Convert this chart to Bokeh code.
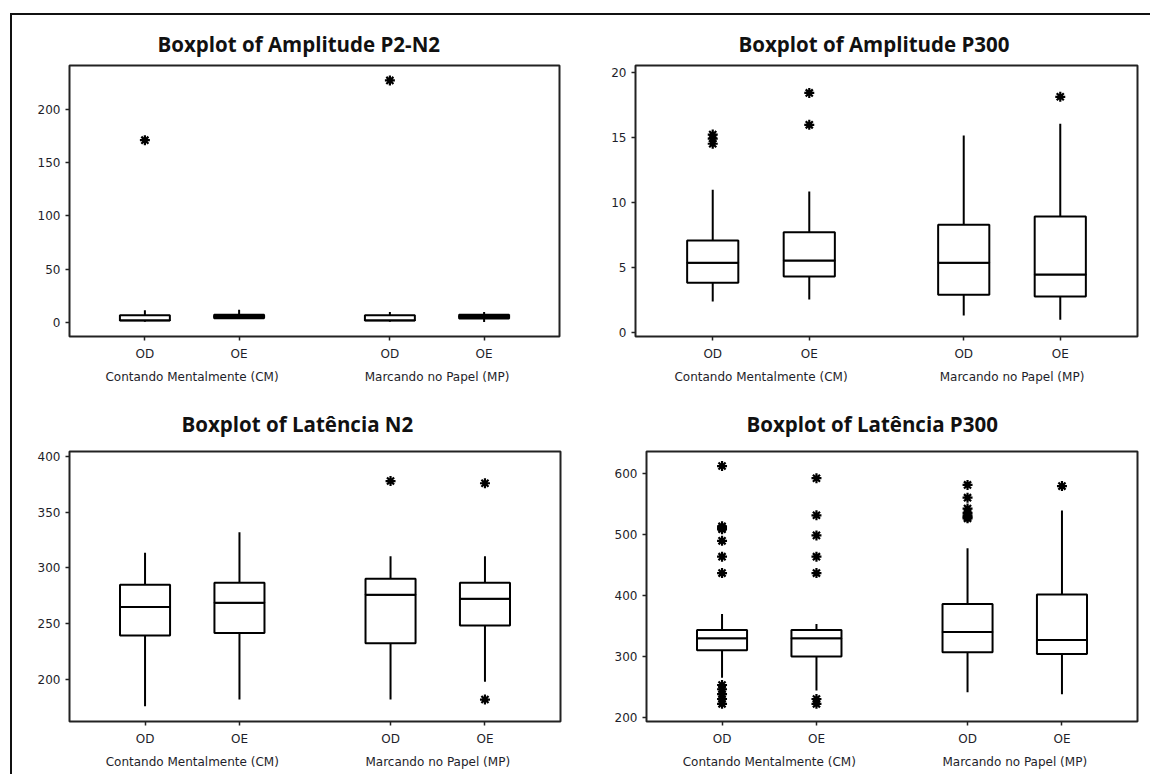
from bokeh.plotting import figure
from bokeh.models import FactorRange, FixedTicker, Range1d, Title
from bokeh.layouts import row, column
from bokeh.embed import file_html
from bokeh.resources import INLINE

# ---------------- data ----------------
groups = ["Contando Mentalmente (CM)", "Marcando no Papel (MP)"]
eyes = ["OD", "OE"]
factors = [(g, e) for g in groups for e in eyes]

# Amplitude P2-N2
a1_lower = [0.8, 3.6, 0.8, 0.5]
a1_q1 = [2.0, 4.0, 2.0, 3.8]
a1_med = [2.2, 5.5, 2.2, 5.5]
a1_q3 = [7.0, 7.5, 7.0, 7.3]
a1_upper = [11.5, 12.0, 10.0, 10.0]
a1_out = [[171.0], [], [227.0], []]
a1_ticks = [0, 50, 100, 150, 200]

# Amplitude P300
a2_lower = [2.4, 2.56, 1.33, 1.0]
a2_q1 = [3.84, 4.32, 2.92, 2.79]
a2_med = [5.37, 5.55, 5.37, 4.47]
a2_q3 = [7.08, 7.72, 8.29, 8.93]
a2_upper = [10.97, 10.84, 15.14, 16.04]
a2_out = [[15.2, 14.9, 14.5], [18.4, 15.95], [], [18.1]]
a2_ticks = [0, 5, 10, 15, 20]

# Latencia N2
l1_lower = [176.0, 182.0, 182.0, 198.0]
l1_q1 = [239.5, 241.6, 232.6, 248.4]
l1_med = [264.9, 268.8, 276.0, 272.3]
l1_q3 = [285.0, 286.7, 290.3, 286.7]
l1_upper = [313.6, 332.0, 310.6, 310.6]
l1_out = [[], [], [378.0], [376.0, 182.0]]
l1_ticks = [200, 250, 300, 350, 400]

# Latencia P300
l2_lower = [265.0, 244.0, 241.0, 238.0]
l2_q1 = [310.0, 300.0, 307.0, 304.0]
l2_med = [330.0, 330.0, 340.0, 327.0]
l2_q3 = [343.6, 343.6, 386.0, 402.0]
l2_upper = [369.6, 353.4, 478.0, 540.0]
l2_out = [
    [613, 514, 511, 509, 490, 464, 437, 253, 246, 238, 230, 222],
    [593, 532, 499, 464, 437, 230, 222],
    [582, 561, 543, 536, 532, 529, 527],
    [580],
]
l2_ticks = [200, 300, 400, 500, 600]

FONT = "DejaVu Sans"
TXT = "#1e1e2a"


def make_panel(title, lower, q1, med, q3, upper, outliers, ticks, yr,
               w, h, bl, br, bt, bb, toff, tstand):
    xr = FactorRange(*factors, factor_padding=0.0, group_padding=0.6,
                     range_padding=0.3, range_padding_units="absolute")
    p = figure(x_range=xr, y_range=Range1d(*yr), width=w, height=h,
               output_backend="svg", toolbar_location=None,
               min_border_left=bl, min_border_right=br,
               min_border_top=bt, min_border_bottom=bb)
    p.title = Title(text=title, align="left", offset=toff,
                    text_font="Open Sans", text_font_style="bold",
                    text_font_size="20.5px", text_color="#111", standoff=tstand)
    p.grid.visible = False
    p.outline_line_color = "#222"
    p.outline_line_width = 2
    p.outline_line_alpha = 1.0
    p.background_fill_color = "white"
    p.border_fill_color = "white"

    # whiskers
    p.segment(x0=factors, y0=q3, x1=factors, y1=upper, line_color="black", line_width=2)
    p.segment(x0=factors, y0=q1, x1=factors, y1=lower, line_color="black", line_width=2)
    # boxes
    p.vbar(x=factors, width=0.53, bottom=q1, top=med, fill_color="white",
           line_color="black", line_width=2)
    p.vbar(x=factors, width=0.53, bottom=med, top=q3, fill_color="white",
           line_color="black", line_width=2)
    # outliers
    ox, oy = [], []
    for f, vals in zip(factors, outliers):
        for v in vals:
            ox.append(f)
            oy.append(v)
    if ox:
        p.scatter(x=ox, y=oy, marker="asterisk", size=10, line_color="black",
                  line_width=2.2)

    ya = p.yaxis[0]
    ya.ticker = FixedTicker(ticks=ticks)
    ya.axis_line_color = None
    ya.major_tick_out = 4
    ya.major_tick_in = 0
    ya.major_tick_line_color = "#222"
    ya.major_tick_line_width = 1.5
    ya.minor_tick_line_color = None
    ya.major_label_standoff = 5
    ya.major_label_text_font = FONT
    ya.major_label_text_font_size = "12px"
    ya.major_label_text_color = TXT

    xa = p.xaxis[0]
    xa.axis_line_color = None
    xa.major_tick_out = 4
    xa.major_tick_in = 0
    xa.major_tick_line_color = "#222"
    xa.major_tick_line_width = 1.5
    xa.major_label_standoff = 6
    xa.major_label_text_font = FONT
    xa.major_label_text_font_size = "12px"
    xa.major_label_text_color = TXT
    xa.group_text_font = FONT
    xa.group_text_font_size = "12px"
    xa.group_text_font_style = "normal"
    xa.group_text_color = TXT
    xa.separator_line_color = None
    return p


p1 = make_panel("Boxplot of Amplitude P2-N2", a1_lower, a1_q1, a1_med, a1_q3,
                a1_upper, a1_out, a1_ticks, (-13, 241),
                586, 375, 57, 39, 48, 54, 88, 15)
p2 = make_panel("Boxplot of Amplitude P300", a2_lower, a2_q1, a2_med, a2_q3,
                a2_upper, a2_out, a2_ticks, (-0.28, 20.5),
                552, 375, 37, 13, 50, 54, 103, 16)
p3 = make_panel("Boxplot of  Latência N2", l1_lower, l1_q1, l1_med, l1_q3,
                l1_upper, l1_out, l1_ticks, (162.3, 404.5),
                586, 384, 57, 38, 61, 53, 112, 27)
p4 = make_panel("Boxplot of Latência P300", l2_lower, l2_q1, l2_med, l2_q3,
                l2_upper, l2_out, l2_ticks, (193, 636.9),
                552, 384, 48, 13, 58, 53, 100, 28)

page = column(row(p1, p2), row(p3, p4), margin=(13, 0, 0, 10),
              styles={"border-top": "2px solid #111", "border-left": "2px solid #111"})

open("out.html", "w").write(file_html(page, INLINE))
